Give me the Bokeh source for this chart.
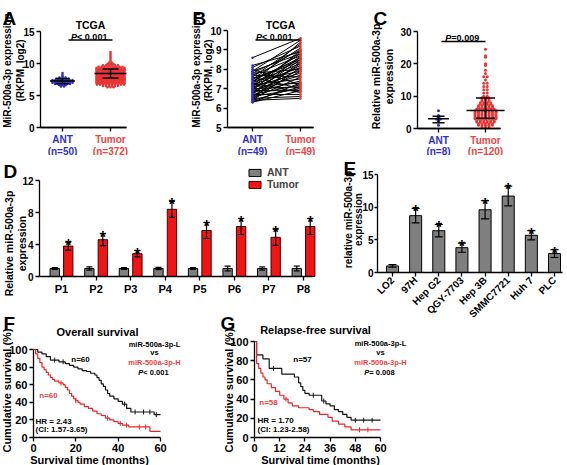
import math
from bokeh.plotting import figure
from bokeh.models import Range1d, FixedTicker, Label, Legend, LegendItem, LinearAxis, GridBox
from bokeh.layouts import column, row
from bokeh.core.properties import value
from bokeh.embed import file_html
from bokeh.resources import INLINE

FONT = "Liberation Sans"
S = 1.0
T = 1.0
FSC = 1.0

BLUE = "#3030c8"
RED = "#ea3535"
TRED = "#ee4444"
KRED = "#e8262b"
GRAY = "#7f7f7f"
BARRED = "#f01414"

# ---------------- data ----------------
groups = ["ANT", "Tumor"]

# A (TCGA, unpaired)
a_n = ["(n=50)", "(n=372)"]
a_ant_vals = [6.4, 6.6, 6.8, 7.0, 7.2, 7.4, 7.6, 7.8, 8.0, 8.2, 8.5]
a_ant_counts = [2, 3, 6, 9, 11, 8, 5, 3, 1, 1, 1]
a_tum_vals = [6.3, 6.5, 6.7, 6.9, 7.1, 7.3, 7.5, 7.7, 7.9, 8.1, 8.3, 8.5, 8.7, 8.9,
              9.1, 9.3, 9.5, 9.7, 9.9, 10.1, 10.3, 10.5, 10.8, 11.0, 11.3, 11.5, 11.8]
a_tum_counts = [3, 6, 10, 14, 18, 23, 27, 30, 33, 34, 33, 31, 28, 24,
                18, 13, 9, 6, 3, 2, 1, 1, 1, 1, 1, 1, 1]
a_mean = [7.25, 8.45]
a_sd = [0.4, 0.7]

# B (TCGA, paired)
b_n = ["(n=49)", "(n=49)"]
b_ant = [8.6, 8.2, 8.1, 8.0, 7.9, 7.9, 7.8, 7.8, 7.7, 7.7, 7.6, 7.6, 7.5, 7.5, 7.5,
         7.4, 7.4, 7.3, 7.3, 7.3, 7.2, 7.2, 7.2, 7.1, 7.1, 7.1, 7.0, 7.0, 7.0,
         6.9, 6.9, 6.9, 6.8, 6.8, 6.8, 6.7, 6.7, 6.7, 6.6, 6.6, 6.6, 6.5, 6.5, 6.5,
         6.4, 6.4, 6.4, 6.3, 6.3]
b_tum = [9.6, 8.9, 9.2, 7.2, 8.8, 9.5, 8.0, 9.0, 7.6, 8.7, 9.3, 7.0, 8.5, 8.4, 9.1,
         7.9, 8.6, 6.8, 8.3, 9.4, 7.5, 8.8, 8.1, 7.3, 8.9, 7.8, 8.2, 7.1, 8.6,
         7.7, 9.0, 6.9, 8.0, 7.4, 8.5, 7.2, 8.7, 6.7, 7.9, 8.3, 7.0, 7.6, 8.4, 6.6,
         7.1, 8.1, 6.5, 7.3, 6.9]

# C (qPCR cohort)
c_n = ["(n=8)", "(n=120)"]
c_ant_vals = [1.0, 2.0, 2.5, 2.9, 3.2, 3.6, 4.0, 5.5]
c_ant_counts = [1, 1, 1, 2, 1, 1, 1, 1]
c_tum_vals = [0.5, 1.0, 1.5, 2.0, 2.5, 3.0, 3.5, 4.0, 4.5, 5.0, 5.5, 6.0, 6.5, 7.0,
              7.5, 8.0, 8.5, 9.0, 9.5, 10.0, 11.0, 12.0, 13.0, 14.0, 15.0, 16.0,
              17.0, 18.0, 19.5, 20.0, 22.0, 22.5, 24.5]
c_tum_counts = [3, 5, 5, 6, 6, 7, 7, 7, 7, 7, 7, 6, 5, 5,
                4, 4, 3, 3, 3, 2, 2, 2, 2, 2, 1, 2,
                1, 1, 1, 1, 1, 1, 1]
c_median = [3.0, 5.6]
c_q1 = [1.8, 3.2]
c_q3 = [3.8, 9.4]

# D (paired tissues)
d_cats = ["P1", "P2", "P3", "P4", "P5", "P6", "P7", "P8"]
d_ant = [1.0, 1.0, 1.0, 1.0, 1.0, 1.0, 1.0, 1.0]
d_ant_err = [0.12, 0.2, 0.12, 0.15, 0.12, 0.3, 0.2, 0.3]
d_tum = [3.8, 4.6, 2.85, 8.4, 5.75, 6.25, 4.9, 6.25]
d_tum_err = [0.5, 0.75, 0.4, 1.0, 1.0, 1.0, 1.0, 1.0]

# E (cell lines)
e_cats = ["LO2", "97H", "Hep G2", "QGY-7703", "Hep 3B", "SMMC7721", "Huh 7", "PLC"]
e_vals = [1.0, 8.7, 6.4, 3.8, 9.6, 11.7, 5.7, 2.9]
e_err = [0.2, 1.1, 0.95, 0.7, 1.4, 1.5, 0.7, 0.6]
e_star = [False, True, True, True, True, True, True, True]

# F overall survival
f_l_t = [0, 2, 4, 6, 8, 12, 15, 17, 19, 21, 23, 25, 27, 29, 30, 31, 32, 33, 34, 35,
         36, 38, 40, 42, 44, 46, 57, 60]
f_l_s = [100, 97, 95, 92, 88, 86, 84, 82, 80, 78, 76, 75, 73, 71, 68, 65, 61, 58, 54, 50,
         47, 44, 41, 38, 33, 29, 26, 26]
f_l_cens = [10, 14, 43, 48, 52, 55, 58]
f_h_t = [0, 1, 2, 3, 4, 5, 6, 7, 8, 9, 10, 12, 14, 15, 16, 17, 18, 19, 20, 21, 22, 24,
         26, 28, 30, 32, 34, 36, 38, 40, 42, 45, 55, 60]
f_h_s = [100, 95, 90, 85, 80, 77, 74, 71, 68, 66, 64, 62, 60, 57, 54, 50, 47, 44, 42, 40,
         38, 35, 33, 30, 27, 25, 22, 20, 18, 16, 14, 12, 7, 7]
f_h_cens = [13, 20, 35, 41, 44, 50, 53]

# G relapse-free survival
g_l_t = [0, 1, 4, 7, 13, 19, 21, 22, 23, 24, 26, 32, 34, 36, 38, 40, 42, 44, 46, 60]
g_l_s = [100, 86, 82, 72, 66, 63, 57, 53, 49, 46, 44, 38, 35, 33, 29, 27, 24, 21, 18, 18]
g_l_cens = [9, 28, 33, 48, 52, 56]
g_h_t = [0, 1, 2, 3, 4, 5, 6, 8, 10, 12, 14, 16, 18, 21, 26, 28, 31, 35, 37, 40, 43, 46, 60]
g_h_s = [100, 77, 72, 67, 63, 60, 56, 52, 48, 44, 40, 36, 33, 31, 29, 27, 24, 21, 17, 14,
         11, 8, 8]
g_h_cens = [15, 50, 54]

# ---------------- helpers ----------------
BW = {'P': .667, ' ': .278, '<': .584, '=': .584, '.': .278}


def fpx(v):
    return f"{v * FSC:.1f}px"


class Panel:
    """A figure whose frame fills its whole box; axes are pinned inside it."""

    def __init__(self, box, origin, xcal, ycal, transparent=False):
        bx0, by0, bx1, by1 = box
        self.bx0, self.by1 = bx0, by1
        (xv1, xp1), (xv2, xp2) = xcal
        (yv1, yp1), (yv2, yp2) = ycal
        self.kx = (xp2 - xp1) / (xv2 - xv1)
        self.ky = (yp1 - yp2) / (yv2 - yv1)
        W = round((bx1 - bx0) * S)
        H = round((by1 - by0) * T)
        self.x0v = xv1 + (bx0 - xp1) / self.kx
        self.y0v = yv1 + (yp1 - by1) / self.ky
        xe = self.x0v + W / (self.kx * S)
        ye = self.y0v + H / (self.ky * T)
        self.axv = self.X(origin[0])
        self.ayv = self.Y(origin[1])
        p = figure(width=W, height=H, x_range=Range1d(self.x0v, xe),
                   y_range=Range1d(self.y0v, ye), min_border=0,
                   min_border_left=0, min_border_right=0, min_border_top=0,
                   min_border_bottom=0,
                   output_backend="svg", toolbar_location=None, title=None)
        p.grid.visible = False
        p.outline_line_color = None
        if transparent:
            p.background_fill_alpha = 0
            p.border_fill_alpha = 0
        else:
            p.background_fill_color = "white"
            p.border_fill_color = "white"
        p.xaxis[0].fixed_location = self.ayv
        p.yaxis[0].fixed_location = self.axv
        self.p = p

    def X(self, px):
        return self.x0v + (px - self.bx0) / self.kx

    def Y(self, py):
        return self.y0v + (self.by1 - py) / self.ky

    def dx(self, n):
        return n / self.kx

    def dy(self, n):
        return n / self.ky

    def text(self, px, py, s, size, color="black", align="center",
             baseline="alphabetic", style="bold", angle=0.0):
        self.p.add_layout(Label(x=self.X(px), y=self.Y(py), text=s, text_font=FONT,
                                text_font_size=fpx(size), text_font_style=style,
                                text_color=color, text_align=align,
                                text_baseline=baseline, angle=angle))

    def ylab(self, px, py, s, size):
        self.text(px, py, s, size, baseline="middle", angle=math.pi / 2)

    def ptext(self, cx, base, rest, size):
        wp = 0.667 * size
        wr = sum(BW.get(c, .556) for c in rest) * size
        left = cx - (wp + wr) / 2
        self.text(left, base, "P", size, align="left", style="bold italic")
        self.text(left + wp, base, rest, size, align="left")

    def hline(self, py, px0, px1):
        self.p.line([self.X(px0), self.X(px1)], [self.Y(py), self.Y(py)],
                    line_color="black", line_width=1.3)


def style_axis(axis, ticks, bounds, size, labels=None, color="black", tick=4, standoff=2):
    axis.ticker = FixedTicker(ticks=ticks, minor_ticks=[])
    axis.bounds = bounds
    axis.axis_line_color = "black"
    axis.axis_line_width = 1.3
    axis.major_tick_line_color = "black"
    axis.major_tick_line_width = 1.3
    axis.major_tick_in = 0
    axis.major_tick_out = tick
    axis.minor_tick_line_color = None
    axis.major_label_text_font = FONT
    axis.major_label_text_font_style = "bold"
    axis.major_label_text_font_size = fpx(size)
    axis.major_label_text_color = color
    axis.major_label_standoff = standoff
    if labels:
        axis.major_label_overrides = labels


def group_axes(P, xbound_px, size=10):
    """Two pinned x axes so that each group name has its own colour."""
    bounds = (P.axv, P.X(xbound_px))
    style_axis(P.p.xaxis[0], [1], bounds, size, labels={1: groups[0]}, color=BLUE)
    ax2 = LinearAxis(fixed_location=P.ayv)
    P.p.add_layout(ax2, "below")
    style_axis(ax2, [2], bounds, size, labels={2: groups[1]}, color=TRED)


def binned_swarm(center, vals, counts, step, halfw):
    xs, ys = [], []
    for v, n in zip(vals, counts):
        st = step if n < 2 else min(step, 2 * halfw / (n - 1))
        for i in range(n):
            xs.append(center + (i - (n - 1) / 2) * st)
            ys.append(v)
    return xs, ys


def summary(P, x, mid, lo, hi, hw_mid, hw_cap):
    a, c = P.dx(hw_mid), P.dx(hw_cap)
    P.p.segment(x0=[x - a, x - c, x - c, x], y0=[mid, lo, hi, lo],
                x1=[x + a, x + c, x + c, x], y1=[mid, lo, hi, hi],
                line_color="black", line_width=1.5)


def errbars(P, xs, vals, errs, cap_px):
    c = P.dx(cap_px)
    x0, y0, x1, y1 = [], [], [], []
    for x, v, e in zip(xs, vals, errs):
        x0 += [x, x - c, x - c]
        y0 += [v - e, v + e, v - e]
        x1 += [x, x + c, x + c]
        y1 += [v + e, v + e, v - e]
    P.p.segment(x0=x0, y0=y0, x1=x1, y1=y1, line_color="black", line_width=1.2)


def stars(P, xs, tops, size=16):
    ys = [t - P.dy(3.5) for t in tops]
    P.p.text(x=xs, y=ys, text=["*"] * len(xs), text_font=value(FONT),
             text_font_size=fpx(size), text_font_style="bold", text_align="center",
             text_baseline="alphabetic", text_color="black")


def n_labels(P, pxs, ns, base=150.5, size=10):
    for px, n, col in zip(pxs, ns, [BLUE, TRED]):
        P.text(px, base, n, size, color=col)


def surv_at(ts, ss, tc):
    v = ss[0]
    for t, s in zip(ts, ss):
        if t <= tc:
            v = s
    return v


R1, R2, R3 = 155, 324, 465
RF = 305  # top of the survival panels (they overlap the band above, transparently)

# ---------------- Panel A ----------------
A = Panel((0, 0, 190, R1), (40, 127), ((1, 62), (2, 110)), ((0, 127), (15, 31)))
pa = A.p
style_axis(pa.yaxis[0], [0, 5, 10, 15], (0, 15), 10)
group_axes(A, 126)
x, y = binned_swarm(1, a_ant_vals, a_ant_counts, A.dx(3), A.dx(10))
pa.scatter(x=x, y=y, size=2.6, fill_color=BLUE, line_color=None)
x, y = binned_swarm(2, a_tum_vals, a_tum_counts, A.dx(3), A.dx(14))
pa.scatter(x=x, y=y, size=2.6, fill_color=RED, line_color=None)
summary(A, 1, a_mean[0], a_mean[0] - a_sd[0], a_mean[0] + a_sd[0], 12.5, 7)
summary(A, 2, a_mean[1], a_mean[1] - a_sd[1], a_mean[1] + a_sd[1], 16, 8)
A.text(2, 18, "A", 19, align="left")
A.text(90, 24.5, "TCGA", 10.5)
A.ptext(90, 36.5, " < 0.001", 9)
A.hline(39.5, 68, 112)
A.ylab(7, 70, "MiR-500a-3p expression", 10)
A.ylab(20, 70, "(RKPM, log2)", 10)
n_labels(A, [62, 110], a_n)

# ---------------- Panel B ----------------
Bp = Panel((190, 0, 370, R1), (227, 127), ((1, 252), (2, 300)), ((5, 127), (10, 30)))
pb = Bp.p
style_axis(pb.yaxis[0], [5, 6, 7, 8, 9, 10], (5, 10), 10)
group_axes(Bp, 313)
pb.segment(x0=[1] * len(b_ant), y0=b_ant, x1=[2] * len(b_tum), y1=b_tum,
           line_color="black", line_width=1)
pb.scatter(x=[1] * len(b_ant), y=b_ant, size=2.5, fill_color=BLUE, line_color=None)
pb.scatter(x=[2] * len(b_tum), y=b_tum, size=2.5, fill_color=RED, line_color=None)
Bp.text(192, 18, "B", 19, align="left")
Bp.text(280, 24.5, "TCGA", 10.5)
Bp.ptext(275, 36.5, " < 0.001", 9)
Bp.hline(39.5, 255, 300)
Bp.ylab(196, 70, "MiR-500a-3p expression", 10)
Bp.ylab(208, 70, "(RKPM, log2)", 10)
n_labels(Bp, [252, 300], b_n)

# ---------------- Panel C ----------------
C = Panel((370, 0, 567, R1), (417, 128), ((1, 438), (2, 485)), ((0, 128), (30, 31)))
pc = C.p
style_axis(pc.yaxis[0], [0, 10, 20, 30], (0, 30), 10)
group_axes(C, 500)
x, y = binned_swarm(1, c_ant_vals, c_ant_counts, C.dx(4), C.dx(8))
pc.scatter(x=x, y=y, size=3, fill_color=BLUE, line_color=None)
x, y = binned_swarm(2, c_tum_vals, c_tum_counts, C.dx(3.5), C.dx(18))
pc.scatter(x=x, y=y, size=3, fill_color=RED, line_color=None)
summary(C, 1, c_median[0], c_q1[0], c_q3[0], 10.5, 6)
summary(C, 2, c_median[1], c_q1[1], c_q3[1], 19, 9.5)
C.text(373, 18, "C", 19, align="left")
C.ptext(463, 37.5, " =0.009", 9)
C.hline(41, 441, 485)
C.ylab(375, 76, "Relative miR-500a-3p", 10.5)
C.ylab(388, 76, "expression", 10.5)
n_labels(C, [438, 485], c_n)

# ---------------- Panel D ----------------
D = Panel((0, R1, 330, R2), (39, 276), ((1, 61), (8, 303)), ((0, 276), (12, 180)))
pd_ = D.p
style_axis(pd_.yaxis[0], [0, 4, 8, 12], (0, 12), 10)
idx = list(range(1, len(d_cats) + 1))
style_axis(pd_.xaxis[0], idx, (D.axv, D.X(312)), 11,
           labels={i: c for i, c in zip(idx, d_cats)})
off = 0.195
xa = [i - off for i in idx]
xt = [i + off for i in idx]
r_ant = pd_.vbar(x=xa, top=d_ant, bottom=0, width=0.27, fill_color=GRAY,
                 line_color="black", line_width=1)
r_tum = pd_.vbar(x=xt, top=d_tum, bottom=0, width=0.27, fill_color=BARRED,
                 line_color="#400000", line_width=1)
errbars(D, xa, d_ant, d_ant_err, 3)
errbars(D, xt, d_tum, d_tum_err, 3)
stars(D, xt, [v + e for v, e in zip(d_tum, d_tum_err)])
leg = Legend(items=[LegendItem(label=groups[0], renderers=[r_ant]),
                    LegendItem(label=groups[1], renderers=[r_tum])],
             location=(247, 134),
             orientation="vertical", border_line_color=None,
             background_fill_alpha=0, padding=0, margin=0, spacing=0,
             glyph_width=15, glyph_height=9, label_height=9, label_standoff=5,
             label_text_font=FONT, label_text_font_style="bold",
             label_text_font_size=fpx(10.5))
pd_.add_layout(leg)
D.text(3, 171, "D", 19, align="left")
D.ylab(8, 243, "Relative miR-500a-3p", 10.5)
D.ylab(21, 243, "expression", 10.5)

# ---------------- Panel E ----------------
E = Panel((330, R1, 567, R2), (377, 272), ((1, 392), (8, 554)), ((0, 272), (15, 174)))
pe = E.p
style_axis(pe.yaxis[0], [0, 5, 10, 15], (0, 15), 10, tick=3, standoff=1)
eidx = list(range(1, len(e_cats) + 1))
style_axis(pe.xaxis[0], eidx, (E.axv, E.X(562)), 10,
           labels={i: c for i, c in zip(eidx, e_cats)})
pe.xaxis[0].major_label_orientation = math.pi / 4
pe.vbar(x=eidx, top=e_vals, bottom=0, width=0.52, fill_color=GRAY,
        line_color="black", line_width=1)
errbars(E, eidx, e_vals, e_err, 4)
sx = [i for i, s in zip(eidx, e_star) if s]
st = [v + e for v, e, s in zip(e_vals, e_err, e_star) if s]
stars(E, sx, st)
E.text(343, 168, "E", 19, align="left")
E.ylab(348, 219, "relative miR-500a-3p", 10)
E.ylab(358, 219, "expression", 10)


# ---------------- KM panels ----------------
def km(box, origin, xcal, ycal, xticks, lo, hi, letter, title, tcx, tbase, ylx, xlx,
       nl, nh, hr, ci, legcx, legbases, ptxt):
    P = Panel(box, origin, xcal, ycal, transparent=True)
    p = P.p
    style_axis(p.yaxis[0], [0, 20, 40, 60, 80, 100], (0, 100), 11)
    style_axis(p.xaxis[0], xticks, (0, 60), 11)
    for (t, s, cens), col in zip([lo, hi], ["#151515", KRED]):
        p.step(x=t, y=s, mode="after", line_color=col, line_width=1.2)
        p.scatter(x=cens, y=[surv_at(t, s, c) for c in cens], marker="dash",
                  angle=math.pi / 2, size=5, line_color=col, line_width=1)
    P.text(letter[0], letter[1], letter[2], 19, align="left")
    P.text(tcx, tbase, title, 11)
    P.ylab(ylx, 390, "Cumulative survival (%)", 11)
    P.text(xlx, 459, "Survival time (months)", 11)
    P.text(nl[0], nl[1], nl[2], 8)
    P.text(nh[0], nh[1], nh[2], 8, color=TRED)
    P.text(hr[0], hr[1], hr[2], 8, align="left")
    P.text(ci[0], ci[1], ci[2], 8, align="left")
    P.text(legcx, legbases[0], "miR-500a-3p-L", 7.5)
    P.text(legcx, legbases[1], "vs", 7.5)
    P.text(legcx, legbases[2], "miR-500a-3p-H", 7.5, color=TRED)
    P.ptext(legcx, legbases[3], ptxt, 7.5)
    return p


pf = km((0, RF, 215, R3), (33, 437), ((0, 33), (60, 160)), ((0, 437), (100, 349)),
        [0, 20, 40, 60], (f_l_t, f_l_s, f_l_cens), (f_h_t, f_h_s, f_h_cens),
        (3, 323, "F"), "Overall survival", 97, 331, 6, 89,
        (80, 359, "n=60"), (48, 395, "n=60"), (35, 420.5, "HR = 2.43"),
        (35, 429, "(CI: 1.57-3.65)"), 154, [344, 352, 362, 371.5], " < 0.001")
pg = km((215, RF, 415, R3), (254, 437), ((0, 254), (60, 380)), ((0, 437), (100, 341)),
        [0, 12, 24, 36, 48, 60], (g_l_t, g_l_s, g_l_cens), (g_h_t, g_h_s, g_h_cens),
        (220, 323, "G"), "Relapse-free survival", 315, 329, 228, 320,
        (302, 359, "n=57"), (268, 402, "n=58"), (257, 420, "HR = 1.70"),
        (257, 429, "(CI: 1.23-2.58)"), 380, [343, 352, 362, 372], " = 0.008")

# grid for the lower part: survival panels overlap the bottom band of D/E
grid = GridBox(children=[(pd_, 0, 0, 2, 2), (pe, 0, 2, 2, 2),
                         (pf, 1, 0, 2, 1), (pg, 1, 1, 2, 2)],
               rows=[f"{RF - R1}px", f"{R2 - RF}px", f"{R3 - R2}px"],
               cols=["215px", "115px", "85px", "152px"], spacing=0)

layout = column(row(pa, pb, pc), grid)
open("out.html", "w").write(file_html(layout, INLINE))
